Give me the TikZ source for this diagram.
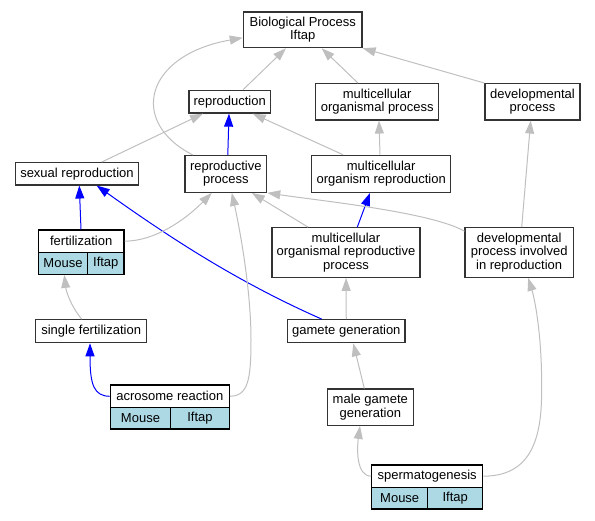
\documentclass[tikz,border=0pt]{standalone}
\usepackage{fontspec}
\setmainfont{Liberation Sans}
\usetikzlibrary{arrows.meta,calc}
\definecolor{EdgeClr}{rgb}{0.75,0.75,0.75}
\definecolor{IsaClr}{rgb}{0,0,1}
\definecolor{CellClr}{rgb}{0.68,0.85,0.9}
\definecolor{BoxClr}{rgb}{0.2,0.2,0.2}

\begin{document}
\begin{tikzpicture}[x=1pt,y=-1pt,
  term/.style={draw=BoxClr,line width=1.2pt,fill=white,inner sep=0pt,align=center,font=\fontsize{13}{13.3}\selectfont},
  cell/.style={term,draw=black,fill=CellClr},
  wh/.style 2 args={minimum width=#1pt,minimum height=#2pt},
  rel/.style={draw=EdgeClr,line width=1pt,-{Triangle[length=13pt,width=9pt]}},
  isa/.style={rel,draw=IsaClr}]
\useasboundingbox (0,0) rectangle (595,520);

\node[term,wh={118.7}{35.7}] (bp) at (302.7,29.8) {Biological Process\\Iftap};
\node[term,wh={81.3}{22.7}] (repro) at (229.7,101.7) {reproduction};
\node[term,wh={123}{36.3}] (mop) at (377.2,101.8) {multicellular\\organismal process};
\node[term,wh={95}{36.3}] (devp) at (532.5,101.8) {developmental\\process};
\node[term,wh={122.6}{22.3}] (sexr) at (77,173.8) {sexual reproduction};
\node[term,wh={81.7}{36.8}] (rp) at (225.8,173.9) {reproductive\\process};
\node[term,wh={139}{37}] (mor) at (381.2,173.8) {multicellular\\organism reproduction};
\node[term,wh={148}{49.6}] (morp) at (346,252.5) {multicellular\\organismal reproductive\\process};
\node[term,wh={108.3}{49.6}] (dpir) at (519.2,252.5) {developmental\\process involved\\in reproduction};
\node[term,wh={111}{23}] (sfert) at (91.2,331.2) {single fertilization};
\node[term,wh={117.3}{23}] (gg) at (346.3,331.2) {gamete generation};
\node[term,wh={86}{36.3}] (mgg) at (370.3,407.2) {male gamete\\generation};

\node[term,draw=black,wh={85.7}{22.3}] (fert) at (81.2,241.2) {fertilization};
\node[cell,wh={49.4}{22}] (fertM) at (63,263.3) {Mouse};
\node[cell,wh={36.3}{22}] (fertI) at (105.8,263.3) {Iftap};

\node[term,draw=black,wh={119}{22.7}] (acro) at (169.8,396.3) {acrosome reaction};
\node[cell,wh={60.4}{21.3}] (acroM) at (140.5,418.3) {Mouse};
\node[cell,wh={58.6}{21.3}] (acroI) at (200,418.3) {Iftap};

\node[term,draw=black,wh={111}{22.3}] (sperm) at (427.2,476.2) {spermatogenesis};
\node[cell,wh={56}{21.7}] (spermM) at (399.7,498.2) {Mouse};
\node[cell,wh={55}{21.7}] (spermI) at (455.2,498.2) {Iftap};

\draw[rel] ([xshift=13.3pt]repro.north) -- ([xshift=-16.7pt]bp.south);
\draw[rel] ([xshift=-19.2pt]mop.north) -- ([xshift=19pt]bp.south);
\draw[rel] (devp.north west) -- (bp.south east);
\draw[rel] ([xshift=-33pt]rp.north) .. controls (128,122) and (145,55) .. ([yshift=-8pt]bp.west);
\draw[rel] ([xshift=24.7pt]sexr.north) -- ([xshift=-26.7pt]repro.south);
\draw[rel] ([xshift=-38.2pt]mor.north) -- ([xshift=23pt]repro.south);
\draw[rel] ([xshift=-1.2pt]mor.north) -- ([xshift=1.8pt]mop.south);
\draw[rel] ([xshift=2.5pt]dpir.north) -- ([xshift=-1.8pt]devp.south);
\draw[isa] ([xshift=2pt]rp.north) -- ([xshift=-0.7pt]repro.south);
\draw[isa] ([xshift=-0.2pt]fert.north) -- ([xshift=2.3pt]sexr.south);
\draw[isa] ([xshift=-24.6pt]gg.north) .. controls (241.7,283.7) and (176.7,242.6) .. ([xshift=19.7pt]sexr.south);
\draw[isa] ([xshift=11.3pt]morp.north) -- ([xshift=-11.2pt]mor.south);
\draw[rel] (fert.east) .. controls (155,241) and (185,220) .. ([xshift=-14pt]rp.south);
\draw[rel] ([xshift=-38pt]morp.north) -- ([xshift=26pt]rp.south);
\draw[rel] ([yshift=-4pt]dpir.north west) .. controls (430,212) and (322,201) .. (rp.south east);
\draw[rel] (acro.east) .. controls (248,396) and (251,380) .. (251,340) .. controls (251,290) and (240,230) .. ([xshift=6pt]rp.south);
\draw[rel] ([xshift=-9.5pt]sfert.north) .. controls (70,305) and (66,290) .. ([xshift=1.3pt]fertM.south);
\draw[isa] (acro.west) .. controls (94,396) and (90,385) .. ([xshift=-1.2pt]sfert.south);
\draw[rel] (gg) -- (morp);
\draw[rel] ([xshift=-6pt]mgg.north) -- ([xshift=7pt]gg.south);
\draw[rel] (sperm.west) .. controls (356,476) and (357,448) .. ([xshift=-10.3pt]mgg.south);
\draw[rel] (sperm.east) .. controls (520,476) and (540,455) .. (541.5,400) .. controls (543,340) and (535,300) .. ([xshift=9pt]dpir.south);

\end{tikzpicture}
\end{document}
